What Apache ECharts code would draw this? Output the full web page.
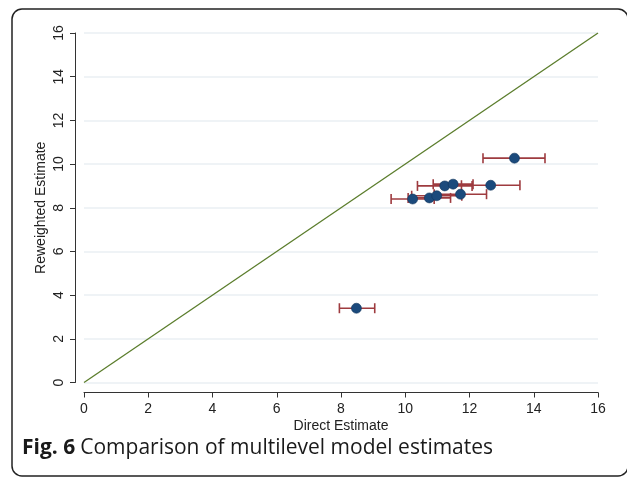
<!DOCTYPE html>
<html>
<head>
<meta charset="utf-8">
<script src="https://cdn.jsdelivr.net/npm/echarts@6/dist/echarts.min.js"></script>
<style>
  html, body { margin: 0; padding: 0; background: #fff; }
  #chart { width: 627px; height: 477px; }
</style>
</head>
<body>
<div id="chart"></div>
<script>
// direct estimate (x), reweighted estimate (y), interval on direct estimate
var directEst  = [13.40, 11.23, 11.49, 12.66, 10.23, 10.75, 10.98, 11.72, 8.48];
var reweighted = [10.27,  9.00,  9.08,  9.03,  8.40,  8.45,  8.55,  8.62, 3.40];
var lowerCI    = [12.42, 10.38, 10.87, 11.75,  9.56, 10.09, 10.20, 10.90, 7.95];
var upperCI    = [14.35, 12.08, 12.11, 13.57, 10.90, 11.41, 11.76, 12.53, 9.05];
var diagLine   = [[0, 0], [16, 16]];

var myChart = echarts.init(document.getElementById('chart'));

var barData = directEst.map(function (v, i) {
    return [lowerCI[i], upperCI[i], reweighted[i]];
});
var pointData = directEst.map(function (v, i) {
    return [v, reweighted[i]];
});

var option = {
    backgroundColor: '#fff',
    animation: false,
    textStyle: { fontFamily: 'Liberation Sans, Arial, sans-serif' },
    title: {
        text: '{b|Fig. 6} {n|Comparison of multilevel model estimates}',
        left: 17,
        top: 433,
        textStyle: {
            fontWeight: 'normal',
            rich: {
                b: { fontFamily: 'Open Sans', fontWeight: 'bold', fontSize: 21, color: '#1a1a1a' },
                n: { fontFamily: 'Open Sans', fontWeight: 'normal', fontSize: 21, color: '#1a1a1a' }
            }
        }
    },
    graphic: [{
        type: 'rect',
        shape: { x: 12, y: 9, width: 616, height: 467, r: 10 },
        style: { fill: 'none', stroke: '#222', lineWidth: 1.5 },
        silent: true,
        z: -1
    }],
    grid: { left: 84, right: 29, top: 33, bottom: 94.5 },
    xAxis: {
        type: 'value',
        min: 0, max: 16, interval: 2,
        offset: 10,
        name: 'Direct Estimate',
        nameLocation: 'middle',
        nameGap: 27,
        nameMoveOverlap: false,
        nameTextStyle: { fontSize: 14, color: '#222' },
        axisLine: { show: true, onZero: false, lineStyle: { color: '#333', width: 1 } },
        axisTick: { show: true, length: 5, lineStyle: { color: '#333' } },
        axisLabel: { fontSize: 14, color: '#222', margin: 10 },
        splitLine: { show: false }
    },
    yAxis: {
        type: 'value',
        min: 0, max: 16, interval: 2,
        offset: 9,
        name: 'Reweighted Estimate',
        nameLocation: 'middle',
        nameGap: 27,
        nameMoveOverlap: false,
        nameRotate: 90,
        nameTextStyle: { fontSize: 14, color: '#222' },
        axisLine: { show: true, onZero: false, lineStyle: { color: '#333', width: 1 } },
        axisTick: { show: true, length: 5, lineStyle: { color: '#333' } },
        axisLabel: { fontSize: 14, color: '#222', rotate: 90, margin: 9 },
        splitLine: { show: true, lineStyle: { color: '#eaeff3', width: 1.5 } }
    },
    series: [
        {
            type: 'line',
            data: diagLine,
            symbol: 'none',
            lineStyle: { color: '#5b7d2c', width: 1.3 },
            z: 2
        },
        {
            type: 'custom',
            data: barData,
            renderItem: function (params, api) {
                var y = api.value(2);
                var p1 = api.coord([api.value(0), y]);
                var p2 = api.coord([api.value(1), y]);
                var h = 5;
                var st = { stroke: '#9e3b3f', lineWidth: 1.6 };
                return {
                    type: 'group',
                    children: [
                        { type: 'line', shape: { x1: p1[0], y1: p1[1], x2: p2[0], y2: p2[1] }, style: st },
                        { type: 'line', shape: { x1: p1[0], y1: p1[1] - h, x2: p1[0], y2: p1[1] + h }, style: st },
                        { type: 'line', shape: { x1: p2[0], y1: p2[1] - h, x2: p2[0], y2: p2[1] + h }, style: st }
                    ]
                };
            },
            z: 3
        },
        {
            type: 'scatter',
            data: pointData,
            symbolSize: 10,
            itemStyle: { color: '#1b4a7c', borderColor: '#13365c', borderWidth: 0.6, opacity: 1 },
            z: 4
        }
    ]
};

myChart.setOption(option);
</script>
</body>
</html>
